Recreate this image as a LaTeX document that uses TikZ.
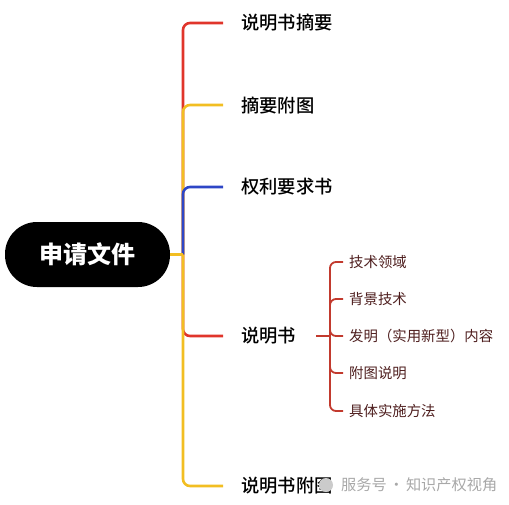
\documentclass[tikz,border=0pt]{standalone}
\usepackage{fontspec}
\setmainfont{Noto Sans CJK SC}
\newfontfamily\cjkmed{Noto Sans CJK SC Medium}
\usetikzlibrary{positioning,calc}
\definecolor{brRed}{HTML}{E0352B}
\definecolor{brYellow}{HTML}{F2BE22}
\definecolor{brBlue}{HTML}{2E46C6}
\definecolor{subRed}{HTML}{C23A2E}
\definecolor{subText}{HTML}{4E1E1E}
\definecolor{wmGray}{HTML}{A8A8A8}
\tikzset{
  racine/.style={rectangle, rounded corners=32pt, fill=black, text=white,
                 font=\fontsize{24}{24}\selectfont\bfseries, minimum width=165pt, minimum height=65pt},
  feuille/.style={anchor=west, inner sep=0pt, font=\fontsize{18.3}{18}\selectfont\cjkmed},
  sousf/.style={anchor=west, inner sep=0pt, text=subText, font=\fontsize{14.4}{14}\selectfont},
  branche/.style={draw=#1, line width=2.6pt, rounded corners=7pt, shorten >=18pt},
  sousb/.style={draw=subRed, line width=1.8pt, rounded corners=6pt, shorten >=6pt},
}
\begin{document}
\begin{tikzpicture}[x=1pt,y=-1pt]
  \useasboundingbox (0,0) rectangle (509,504);
  \node[racine] (root) at (87.5,254.5) {申请文件};
  \coordinate (hub) at (183,254.5);
  \node[feuille] (c1) at (241,23) {说明书摘要};
  \node[feuille] (c2) at (241,105) {摘要附图};
  \node[feuille] (c3) at (241,187) {权利要求书};
  \node[feuille] (c4) at (241,336) {说明书};
  \node[feuille] (c5) at (241,486) {说明书附图};
  % branches principales
  \draw[branche=brRed] (hub) |- (c1.west);
  \draw[branche=brYellow] (hub) |- (c2.west);
  \draw[branche=brBlue] (hub) |- (c3.west);
  \draw[branche=brRed] (hub) |- (c4.west);
  \draw[branche=brYellow] (hub) |- (c5.west);
  \draw[draw=brYellow, line width=2.6pt] (root.east) -- (hub);
  % sous-branches du description
  \coordinate (subhub) at (330,336);
  \node[sousf] (s1) at (349,262) {技术领域};
  \node[sousf] (s2) at (349,299) {背景技术};
  \node[sousf] (s3) at (349,336) {发明（实用新型）内容};
  \node[sousf] (s4) at (349,373) {附图说明};
  \node[sousf] (s5) at (349,411) {具体实施方法};
  \draw[draw=subRed, line width=1.2pt] ([xshift=20pt]c4.east) -- (subhub);
  \foreach \s in {s1,s2,s3,s4,s5}
    \draw[sousb] (subhub) |- (\s.west);
  % filigrane
  \fill[wmGray!60] (326,485) circle (7pt);
  \node[anchor=west, inner sep=0pt, text=wmGray, font=\fontsize{15.2}{15}\selectfont] (wm) at (341,485) {服务号\kern2pt·\kern2pt知识产权视角};
\end{tikzpicture}
\end{document}
